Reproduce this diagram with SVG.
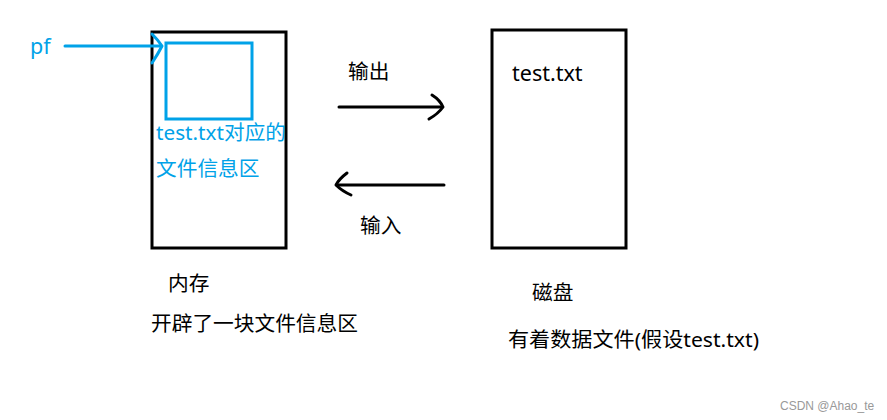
<svg xmlns="http://www.w3.org/2000/svg" width="887" height="420" viewBox="0 0 887 420">
<style>
.box{fill:none;stroke:#000;stroke-width:3}
.bbox{fill:none;stroke:#00a2e8;stroke-width:3}
.ln{fill:none;stroke:#000;stroke-width:3;stroke-linecap:round;stroke-linejoin:round}
.bln{fill:none;stroke:#00a2e8;stroke-width:3;stroke-linecap:round;stroke-linejoin:round}
text{font-family:"Noto Sans","Noto Sans CJK SC",sans-serif;font-size:20.7px;fill:#000}
.b{fill:#00a2e8}
.l{font-size:21.5px}
.wm{font-family:"Liberation Sans",sans-serif;font-size:12px;fill:#999}
</style>
<rect width="887" height="420" fill="#fff"/>
<g id="memory">
<rect class="box" x="152" y="32" width="134" height="216"/>
<text x="168" y="291">内存</text>
<text x="151" y="331">开辟了一块文件信息区</text>
</g>
<g id="fileinfo">
<rect class="bbox" x="166" y="43" width="86" height="76"/>
<text class="b" x="156" y="140">test.txt对应的</text>
<text class="b" x="156" y="176">文件信息区</text>
</g>
<g id="pf">
<text class="b l" x="30" y="54">pf</text>
</g>
<g id="disk">
<rect class="box" x="492" y="30" width="134" height="218"/>
<text class="l" x="512" y="81">test.txt</text>
<text x="532" y="300">磁盘</text>
<text x="508" y="347" textLength="251" lengthAdjust="spacingAndGlyphs">有着数据文件(假设test.txt)</text>
</g>
<g id="connectors">
<path class="bln" d="M65,46 H161"/>
<path class="bln" d="M152,34 Q158,40 162,46 Q158,54 152,63"/>
<path class="ln" d="M339,107 H442"/>
<path class="ln" d="M432,95 Q440,100 443,107 Q438,114 429,119"/>
<text x="348" y="79">输出</text>
<path class="ln" d="M444,185 H337"/>
<path class="ln" d="M347,173 Q339,179 336,185 Q342,191 351,195"/>
<text x="360" y="233">输入</text>
</g>
<text class="wm" x="780" y="410">CSDN @Ahao_te</text>
</svg>
